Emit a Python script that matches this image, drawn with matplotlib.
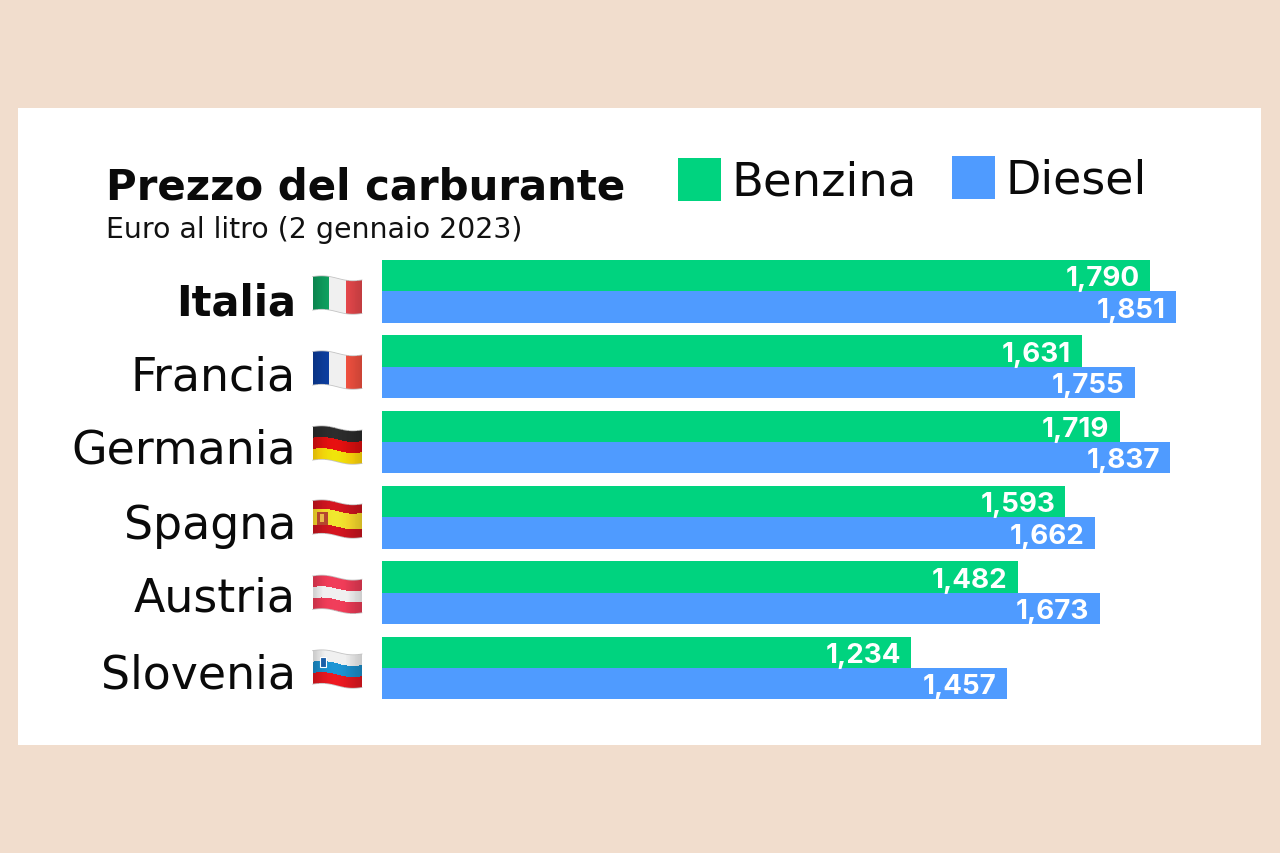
import numpy as np
import matplotlib
matplotlib.use('Agg')
import matplotlib.pyplot as plt
from matplotlib.patches import Rectangle

plt.rcParams['font.family'] = ['DejaVu Sans']

paesi = ['Italia', 'Francia', 'Germania', 'Spagna', 'Austria', 'Slovenia']
benzina = [1.790, 1.631, 1.719, 1.593, 1.482, 1.234]
diesel = [1.851, 1.755, 1.837, 1.662, 1.673, 1.457]

VERDE = '#00D37F'
BLU = '#4F9BFF'
SFONDO = '#F1DDCD'
W, H = 1280, 853

fig = plt.figure(figsize=((W + 0.1) / 100, (H + 0.1) / 100), dpi=100, facecolor=SFONDO)

# overlay in pixel coords for card, titles, legend and flags
bg = fig.add_axes([0, 0, 1, 1])
bg.set_xlim(0, W)
bg.set_ylim(H, 0)
bg.axis('off')
bg.add_patch(Rectangle((18, 108), 1243, 637, facecolor='white', edgecolor='none', zorder=0))

bg.text(106, 199, 'Prezzo del carburante', fontsize=30.2, fontweight='bold', color='#0A0A0A', va='baseline')
bg.text(106, 238, 'Euro al litro (2 gennaio 2023)', fontsize=20.4, color='#111111', va='baseline')
bg.add_patch(Rectangle((678, 158), 43, 43, facecolor=VERDE, edgecolor='none'))
bg.add_patch(Rectangle((952, 156), 43, 43, facecolor=BLU, edgecolor='none'))
bg.text(731, 195, 'Benzina', fontsize=33.5, color='#0A0A0A', va='baseline')
bg.text(1005, 193, 'Diesel', fontsize=33, color='#0A0A0A', va='baseline')

# bars
ax = fig.add_axes([382 / W, 1 - 700 / H, 858 / W, 440 / H])
ax.patch.set_alpha(0)
y = np.arange(len(paesi))
h = 0.417
ax.barh(y - h / 2, benzina, height=h, color=VERDE)
ax.barh(y + h / 2, diesel, height=h, color=BLU)
ax.set_xlim(0, 2.0)
ax.set_ylim(5.425, -0.418)
ax.axis('off')

for i in y:
    ax.annotate(f'{benzina[i]:.3f}'.replace('.', ','), (benzina[i], i - h / 2), xytext=(-7.5, -2.5),
                textcoords='offset points', ha='right', va='center', color='white', fontsize=20,
                fontweight='bold', family='Inter')
    ax.annotate(f'{diesel[i]:.3f}'.replace('.', ','), (diesel[i], i + h / 2), xytext=(-7.5, -2.5),
                textcoords='offset points', ha='right', va='center', color='white', fontsize=20,
                fontweight='bold', family='Inter')

# country names
base_y = [315, 390, 463, 539, 611, 688]
for i, nome in enumerate(paesi):
    if nome == 'Italia':
        bg.text(296, base_y[i], nome, ha='right', va='baseline', fontsize=30, color='#0A0A0A', fontweight='bold')
    else:
        bg.text(296, base_y[i], nome, ha='right', va='baseline', fontsize=33, color='#0A0A0A')


def hexrgb(c):
    return np.array(matplotlib.colors.to_rgb(c))


def flag(top, stripes, vertical=False, weights=None):
    # waving flag built from a shaded mesh
    x0, x1 = 312.5, 362
    fh = 33.5
    nu, nv = 60, 60
    u = np.linspace(0, 1, nu + 1)
    v = np.linspace(0, 1, nv + 1)
    uu, vv = np.meshgrid(u, v)
    off = 3.3 * (3 * uu ** 2 - 2 * uu ** 3) - 1.2 * np.sin(2 * np.pi * uu)
    xx = x0 + (x1 - x0) * uu
    yy = top + fh * vv + off
    cu = (u[:-1] + u[1:]) / 2
    cv = (v[:-1] + v[1:]) / 2
    if weights is None:
        weights = [1 / len(stripes)] * len(stripes)
    edges = np.cumsum(weights)
    rgb = np.zeros((nv, nu, 3))
    shade = 0.88 + 0.15 * np.sin(np.pi * cu) + 0.04 * np.sin(2 * np.pi * cu - 1)
    for r in range(nv):
        for c in range(nu):
            t = cu[c] if vertical else cv[r]
            k = min(np.searchsorted(edges, t), len(stripes) - 1)
            rgb[r, c] = np.clip(hexrgb(stripes[k]) * shade[c], 0, 0.94)
    bg.pcolormesh(xx, yy, rgb, shading='flat', edgecolors='none', rasterized=True, zorder=3)
    # thin edge so the white parts stay visible on the card
    bg.plot(xx[0], yy[0], color='#C4C4C4', lw=0.6, zorder=4)
    bg.plot(xx[-1], yy[-1], color='#C4C4C4', lw=0.6, zorder=4)


flag(276.7, ['#0E9A5C', '#F0F0F0', '#E5474B'], vertical=True)
flag(351.7, ['#0C3C9A', '#F0F0F0', '#F0503F'], vertical=True)
flag(426.7, ['#2A2A2A', '#D90F0F', '#FFD60A'])
flag(500.7, ['#C8141E', '#F7D92C', '#C8141E'], weights=[0.27, 0.46, 0.27])
flag(576, ['#E93A55', '#F2F2F2', '#E93A55'])
flag(650.7, ['#EDEDED', '#1B8CC8', '#E0171F'])

# stemmi
bg.add_patch(Rectangle((316.5, 512), 11, 13, facecolor='#B5462F', edgecolor='none', zorder=5))
bg.add_patch(Rectangle((320, 514), 4, 8, facecolor='#E9B949', edgecolor='none', zorder=6))
bg.add_patch(Rectangle((320, 657), 6, 10, facecolor='#1C5FA8', edgecolor='white', linewidth=0.8, zorder=5))

fig.savefig('out.png', dpi=100, facecolor=fig.get_facecolor())
